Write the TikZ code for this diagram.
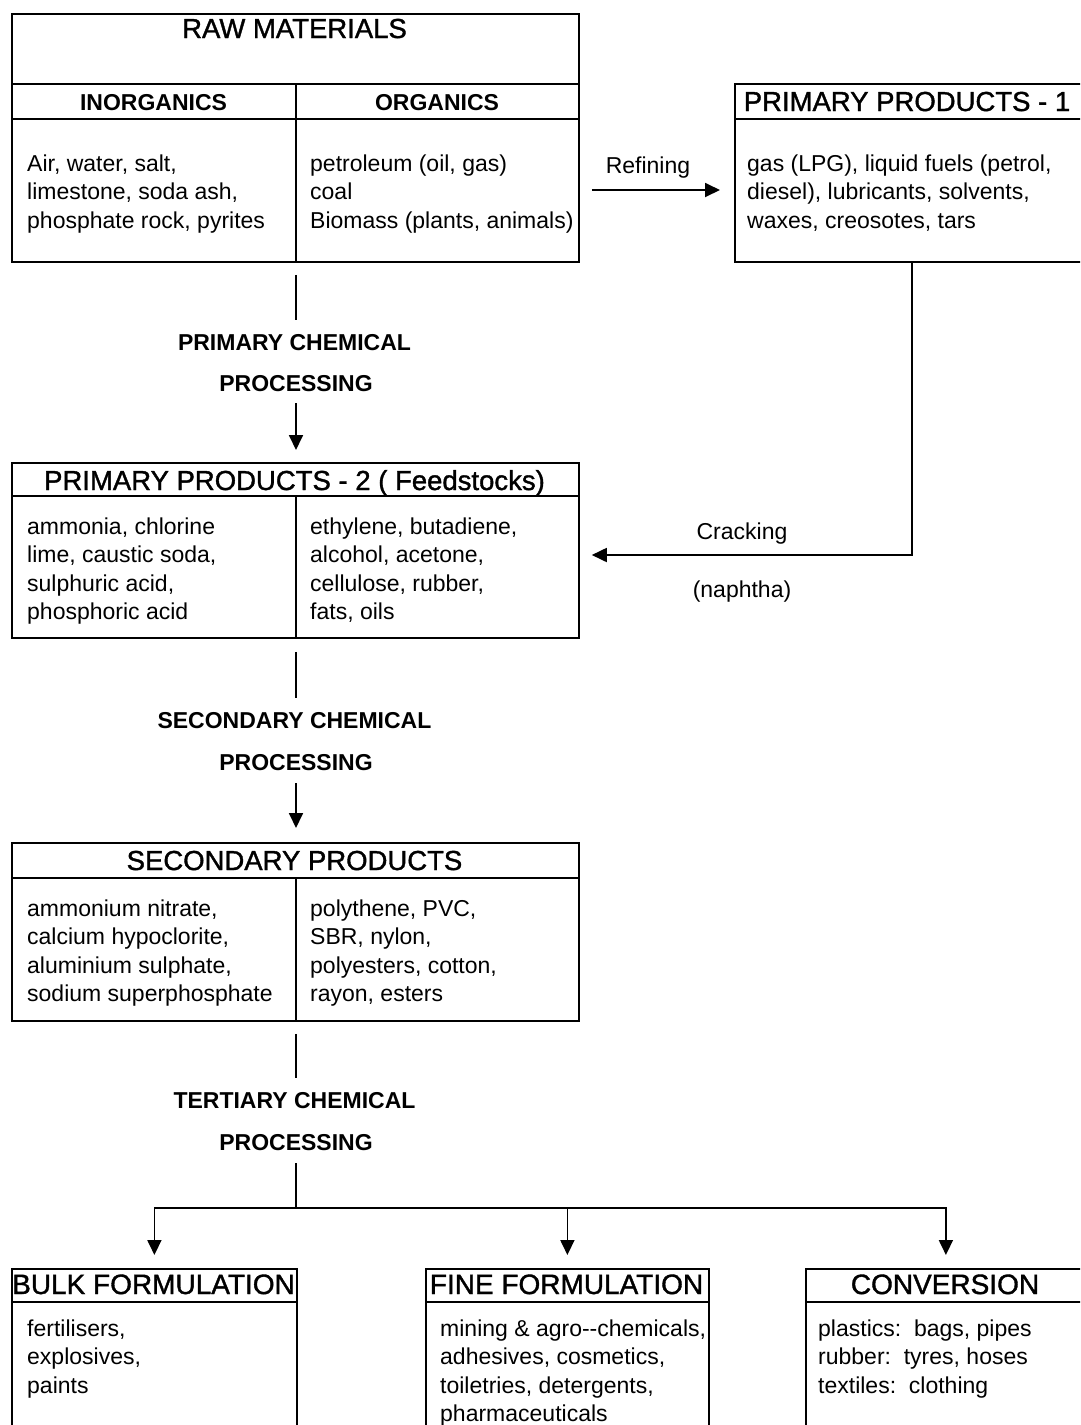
\documentclass[tikz,border=0pt]{standalone}
\usepackage{fontspec}
\setmainfont{Liberation Sans}
\newfontfamily\titlefont[FakeBold=1.3]{Liberation Sans}
\usetikzlibrary{arrows.meta}
\begin{document}
\begin{tikzpicture}[x=1pt,y=-1pt,
  box/.style={draw, line width=1.8pt, rectangle, anchor=north west, inner sep=0pt},
  body/.style={anchor=north west, align=left, inner sep=0pt, font=\fontsize{23}{28.5}\selectfont},
  title/.style={anchor=base, inner sep=0pt, font=\titlefont\fontsize{27.5}{32}\selectfont},
  btitle/.style={anchor=base, inner sep=0pt, font=\titlefont\fontsize{28}{32}\selectfont},
  sub/.style={anchor=base, inner sep=0pt, font=\bfseries\fontsize{23}{27}\selectfont},
  lbl/.style={anchor=base, inner sep=0pt, font=\fontsize{23}{27}\selectfont},
  link/.style={line width=1.8pt},
  arr/.style={line width=1.8pt, -{Triangle[length=15pt,width=14pt]}}]

\clip (0,0) rectangle (1080,1425);

% ---------- boxes ----------
\node[box, minimum width=567pt, minimum height=248pt] (raw) at (11,13) {};
\draw[link] (11,84) -- (578,84);
\draw[link] (11,119) -- (578,119);
\draw[link] (296,84) -- (296,261);

\node[box, minimum width=352pt, minimum height=178pt] (pp1) at (734,83) {};
\draw[link] (734,119) -- (1086,119);

\node[box, minimum width=567pt, minimum height=175pt] (pp2) at (11,462) {};
\draw[link] (11,496) -- (578,496);
\draw[link] (296,496) -- (296,637);

\node[box, minimum width=567pt, minimum height=178pt] (sp) at (11,842) {};
\draw[link] (11,878) -- (578,878);
\draw[link] (296,878) -- (296,1020);

\node[box, minimum width=285pt, minimum height=200pt] (bulk) at (11,1268) {};
\draw[link] (11,1302) -- (296,1302);
\node[box, minimum width=283pt, minimum height=200pt] (fine) at (425,1268) {};
\draw[link] (425,1302) -- (708,1302);
\node[box, minimum width=280pt, minimum height=200pt] (conv) at (805,1268) {};
\draw[link] (805,1302) -- (1085,1302);

% ---------- titles ----------
\node[title] (tRaw) at (294.5,38) {RAW MATERIALS};
\node[sub] (tIn) at (153.5,110) {INORGANICS};
\node[sub] (tOrg) at (437,110) {ORGANICS};
\node[title] (tP1) at (907,111) {PRIMARY PRODUCTS - 1};
\node[title] (tP2) at (294.5,490) {PRIMARY PRODUCTS - 2 ( Feedstocks)};
\node[title] (tSP) at (294.5,870) {SECONDARY PRODUCTS};
\node[btitle] (tBulk) at (153.5,1294) {BULK FORMULATION};
\node[btitle] (tFine) at (566.5,1294) {FINE FORMULATION};
\node[btitle] (tConv) at (945,1294) {CONVERSION};

% ---------- cell texts ----------
\node[body] (rawIn) at (27,154.5) {Air, water, salt,\\limestone, soda ash,\\phosphate rock, pyrites};
\node[body] (rawOrg) at (310,154.5) {petroleum (oil, gas)\\coal\\Biomass (plants, animals)};
\node[body] (p1txt) at (747,154.5) {gas (LPG), liquid fuels (petrol,\\diesel), lubricants, solvents,\\waxes, creosotes, tars};
\node[body] (p2l) at (27,517.5) {ammonia, chlorine\\lime, caustic soda,\\sulphuric acid,\\phosphoric acid};
\node[body] (p2r) at (310,517.5) {ethylene, butadiene,\\alcohol, acetone,\\cellulose, rubber,\\fats, oils};
\node[body] (spl) at (27,899.5) {ammonium nitrate,\\calcium hypoclorite,\\aluminium sulphate,\\sodium superphosphate};
\node[body] (spr) at (310,899.5) {polythene, PVC,\\SBR, nylon,\\polyesters, cotton,\\rayon, esters};
\node[body] (bulktxt) at (27,1319.5) {fertilisers,\\explosives,\\paints};
\node[body] (finetxt) at (440,1319.5) {mining \& agro-{}-chemicals,\\adhesives, cosmetics,\\toiletries, detergents,\\pharmaceuticals};
\node[body] (convtxt) at (818,1319.5) {plastics:\ \ bags, pipes\\rubber:\ \ tyres, hoses\\textiles:\ \ clothing};

% ---------- process labels ----------
\node[sub] (pc1) at (294.5,350) {PRIMARY CHEMICAL};
\node[sub] (pc2) at (296,391) {PROCESSING};
\node[sub] (sc1) at (294.5,728) {SECONDARY CHEMICAL};
\node[sub] (sc2) at (296,770) {PROCESSING};
\node[sub] (tc1) at (294.5,1108) {TERTIARY CHEMICAL};
\node[sub] (tc2) at (296,1150) {PROCESSING};

\node[lbl] (lRef) at (648,173) {Refining};
\node[lbl] (lCrack) at (742,539) {Cracking};
\node[lbl] (lNaph) at (742,597) {(naphtha)};

% ---------- helper coordinates ----------
\coordinate (ax) at (296,0);
\coordinate (refy) at (0,190);
\coordinate (crx) at (912,0);
\coordinate (cry) at (0,555);
\coordinate (jn) at (296,1208);

% ---------- connectors ----------
\draw[arr, shorten <=12pt, shorten >=14pt] (raw.east |- refy) -- (pp1.west |- refy);
\draw[arr, shorten >=12pt] (pp1.south -| crx) |- (pp2.east |- cry);

\draw[link, shorten <=12pt, shorten >=14pt] (raw.south -| ax) -- (pc1.north -| ax);
\draw[arr, shorten <=12pt, shorten >=12pt] (pc2.south -| ax) -- (pp2.north -| ax);

\draw[link, shorten <=13pt, shorten >=14pt] (pp2.south -| ax) -- (sc1.north -| ax);
\draw[arr, shorten <=13pt, shorten >=14pt] (sc2.south -| ax) -- (sp.north -| ax);

\draw[link, shorten <=12pt, shorten >=14pt] (sp.south -| ax) -- (tc1.north -| ax);
\draw[link, shorten <=13pt] (tc2.south -| ax) -- (jn);
\draw[arr, shorten >=13pt] (jn) -| (bulk.north);
\draw[arr, shorten >=13pt] (jn) -| (conv.north);
\draw[arr, shorten >=13pt] (fine.north |- jn) -- (fine.north);
\end{tikzpicture}
\end{document}
